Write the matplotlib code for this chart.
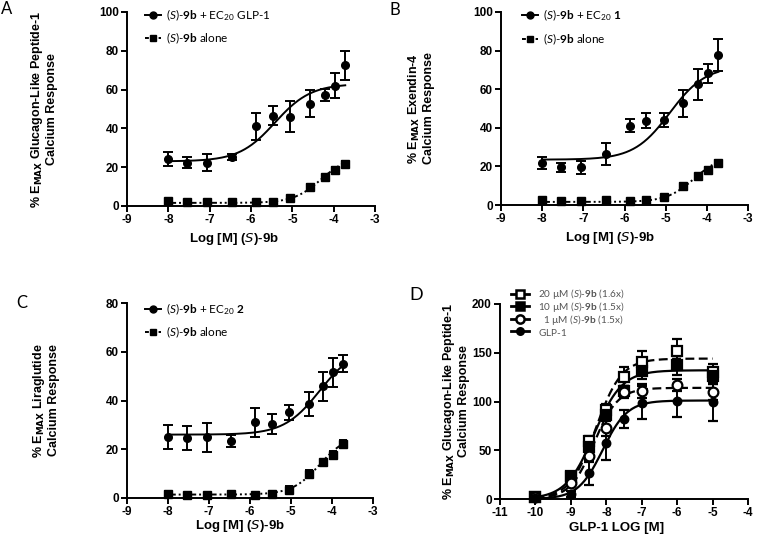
import numpy as np
import matplotlib
matplotlib.use('Agg')
import matplotlib.pyplot as plt
from matplotlib.lines import Line2D

plt.rcParams['font.family'] = ['Liberation Sans', 'DejaVu Sans']
plt.rcParams['mathtext.fontset'] = 'custom'
plt.rcParams['mathtext.rm'] = 'Lato'
plt.rcParams['mathtext.it'] = 'Lato:italic'
plt.rcParams['mathtext.bf'] = 'Lato:bold'

# ---------------- data ----------------
logM_9b = [-8.0, -7.54, -7.06, -6.46, -5.87, -5.47, -5.05, -4.57, -4.22, -3.97, -3.72]

A_combo = [24.1, 22.4, 22.4, 25.3, 41.1, 46.5, 46.0, 52.8, 57.1, 62.0, 72.5]
A_combo_err = [3.5, 3.0, 4.5, 1.5, 7.0, 5.0, 8.0, 7.0, 3.0, 6.5, 7.5]
A_alone = [2.4, 2.0, 1.9, 2.2, 1.9, 2.2, 4.0, 9.6, 15.0, 18.4, 21.9]
A_alone_err = [1.0, 0.8, 0.8, 0.8, 0.8, 0.8, 1.2, 1.5, 1.0, 1.5, 1.5]

B_combo = [21.7, 19.5, 19.5, 26.4, 41.1, 43.7, 44.0, 52.6, 62.5, 68.3, 77.7]
B_combo_err = [3.0, 2.5, 3.5, 5.5, 3.5, 4.0, 3.5, 7.0, 8.0, 5.0, 8.5]
B_alone = [2.4, 2.0, 2.0, 2.4, 2.0, 2.4, 4.0, 9.8, 14.9, 18.3, 21.7]
B_alone_err = [1.0, 0.8, 0.8, 0.8, 0.8, 0.8, 1.2, 1.5, 1.0, 1.5, 1.5]

C_combo = [24.9, 24.6, 24.9, 23.5, 31.0, 30.4, 35.2, 38.6, 45.8, 51.6, 55.0]
C_combo_err = [5.0, 5.0, 6.0, 2.5, 6.0, 4.0, 3.0, 5.0, 6.0, 6.0, 3.5]
C_alone = [1.8, 1.4, 1.4, 1.6, 1.4, 1.6, 3.4, 10.0, 14.6, 17.8, 22.2]
C_alone_err = [1.2, 0.6, 0.6, 1.0, 0.6, 1.0, 1.5, 1.5, 0.8, 1.5, 1.5]

# 4-parameter logistic fit parameters: bottom, top, logEC50, hill
A_combo_fit = [23.0, 63.0, -5.42, 1.0]
A_alone_fit = [1.6, 26.0, -4.30, 1.3]
B_combo_fit = [23.5, 72.0, -4.90, 1.0]
B_alone_fit = [1.6, 26.0, -4.30, 1.3]
C_combo_fit = [26.0, 62.0, -4.30, 1.0]
C_alone_fit = [1.4, 26.0, -4.30, 1.3]

logM_glp1 = [-10, -9, -8.5, -8, -7.5, -7, -6, -5]
D_20uM = [1.7, 23.5, 60.0, 91.0, 125.5, 141.0, 152.0, 130.0]
D_20uM_err = [1, 3, 5, 6, 10, 11, 12, 8]
D_10uM = [1.7, 23.0, 53.0, 86.0, 111.0, 131.0, 137.0, 126.5]
D_10uM_err = [1, 3, 5, 6, 5, 8, 10, 8]
D_1uM = [1.7, 16.0, 44.0, 73.0, 109.5, 111.0, 117.0, 110.0]
D_1uM_err = [1, 3, 6, 8, 6, 7, 6, 8]
D_glp1 = [1.5, 5.0, 27.0, 57.0, 82.0, 98.6, 101.0, 99.3]
D_glp1_err = [1, 3, 13, 17, 9, 17, 17, 19]

D_20uM_fit = [0.0, 144.0, -8.30, 1.2]
D_10uM_fit = [0.0, 132.0, -8.35, 1.1]
D_1uM_fit = [0.0, 114.0, -8.35, 1.3]
D_glp1_fit = [0.0, 101.0, -8.10, 1.25]

legA = [r"($\mathit{S}$)-$\mathbf{9b}$ + EC$_{20}$ GLP-1", r"($\mathit{S}$)-$\mathbf{9b}$ alone"]
legB = [r"($\mathit{S}$)-$\mathbf{9b}$ + EC$_{20}$ $\mathbf{1}$", r"($\mathit{S}$)-$\mathbf{9b}$ alone"]
legC = [r"($\mathit{S}$)-$\mathbf{9b}$ + EC$_{20}$ $\mathbf{2}$", r"($\mathit{S}$)-$\mathbf{9b}$ alone"]
legD = [r"20 µM ($\mathit{S}$)-$\mathbf{9b}$ (1.6x)", r"10 µM ($\mathit{S}$)-$\mathbf{9b}$ (1.5x)",
        r"  1 µM ($\mathit{S}$)-$\mathbf{9b}$ (1.5x)", r"GLP-1$\,$"]

xlabel_9b = r"Log [M] ($\mathit{S}$)-9b"
xlabel_D = "GLP-1 LOG [M]"
ylabels = [r"% E$_{\mathbf{MAX}}$ Glucagon-Like Peptide-1" + "\nCalcium Response",
           r"% E$_{\mathbf{MAX}}$ Exendin-4" + "\nCalcium Response",
           r"% E$_{\mathbf{MAX}}$ Liraglutide" + "\nCalcium Response",
           r"% E$_{\mathbf{MAX}}$ Glucagon-Like Peptide-1" + "\nCalcium Response"]


def logistic(x, p):
    b, t, ec, h = p
    return b + (t - b) / (1 + 10 ** ((ec - x) * h))


fig = plt.figure(figsize=(7.78, 5.4), dpi=100)
W, H = 778.0, 540.0


def axes_px(l, t, r, b):
    return fig.add_axes([l / W, 1 - b / H, (r - l) / W, (b - t) / H])


def style(ax, xlim, ylim, xt, yt):
    ax.set_xlim(*xlim)
    ax.set_ylim(*ylim)
    ax.set_xticks(xt)
    ax.set_yticks(yt)
    ax.set_xticklabels([str(v) for v in xt])
    ax.set_yticklabels([str(v) for v in yt])
    for s in ['top', 'right']:
        ax.spines[s].set_visible(False)
    for s in ['left', 'bottom']:
        ax.spines[s].set_linewidth(1.4)
    ax.tick_params(direction='out', length=4, width=1.4, pad=2, labelsize=8.5)
    for lab in ax.get_xticklabels() + ax.get_yticklabels():
        lab.set_fontweight('bold')


def legend_handle(y, hx0, hx1, st):
    yy = 1 - y / H
    fig.add_artist(Line2D([hx0 / W, hx1 / W], [yy, yy], transform=fig.transFigure,
                          color='k', lw=st.get('lw', 1.4), ls=st.get('ls', '-')))
    fig.add_artist(Line2D([(hx0 + hx1) / 2 / W], [yy], transform=fig.transFigure, ls='none',
                          marker=st['marker'], ms=st['ms'], mfc=st.get('mfc', 'k'),
                          mec='k', mew=st.get('mew', 1.0)))


def manual_legend(rows_y, hx0, hx1, tx, labels, styles, fs, color):
    for y, lab, st in zip(rows_y, labels, styles):
        legend_handle(y, hx0, hx1, st)
        fig.text(tx / W, 1 - y / H, lab, fontsize=fs, family='Lato', color=color, ha='left', va='center')


ALONE_LS = (0, (4, 1.5, 1, 1.5, 1, 1.5))


def panel_9b(ax, combo, cerr, cfit, alone, aerr, afit, ylab, ymax, yt, xlc, ylc, yl_x):
    style(ax, (-9, -3), (0, ymax), list(range(-9, -2)), yt)
    xs = np.linspace(logM_9b[0], logM_9b[-1], 200)
    ax.plot(xs, logistic(xs, cfit), color='k', lw=1.4, clip_on=False)
    ax.plot(xs, logistic(xs, afit), color='k', lw=1.4, ls=ALONE_LS, clip_on=False)
    ax.errorbar(logM_9b, combo, yerr=cerr, fmt='o', ms=5.5, color='k', capsize=3.5,
                elinewidth=1.4, capthick=1.4, clip_on=False)
    ax.errorbar(logM_9b, alone, yerr=aerr, fmt='s', ms=5.5, color='k', capsize=3.0,
                elinewidth=1.4, capthick=1.4, clip_on=False)
    ax.set_xlabel(xlabel_9b, fontsize=9.5, fontweight='bold', math_fontfamily='dejavusans')
    ax.xaxis.set_label_coords(xlc, ylc)
    ax.set_ylabel(ylab, fontsize=9, fontweight='bold', math_fontfamily='dejavusans', linespacing=1.1)
    ax.yaxis.set_label_coords(yl_x, 0.5)


leg_styles_9b = [dict(marker='o', ms=5), dict(marker='s', ms=5, ls=(0, (2, 1.5)))]

axA = axes_px(127, 12, 375, 206)
panel_9b(axA, A_combo, A_combo_err, A_combo_fit, A_alone, A_alone_err, A_alone_fit,
         ylabels[0], 100, [0, 20, 40, 60, 80, 100], 0.43, -0.13, -0.278)
manual_legend([15, 38], 145, 161, 166, legA, leg_styles_9b, 8.5, 'k')

axB = axes_px(501, 12, 748, 205)
panel_9b(axB, B_combo, B_combo_err, B_combo_fit, B_alone, B_alone_err, B_alone_fit,
         ylabels[1], 100, [0, 20, 40, 60, 80, 100], 0.44, -0.128, -0.267)
manual_legend([15, 39], 522, 538, 543, legB, leg_styles_9b, 8.5, 'k')

axC = axes_px(127, 303, 373, 498)
panel_9b(axC, C_combo, C_combo_err, C_combo_fit, C_alone, C_alone_err, C_alone_fit,
         ylabels[2], 80, [0, 20, 40, 60, 80], 0.46, -0.102, -0.272)
manual_legend([309, 332], 145, 161, 166, legC, leg_styles_9b, 8.5, 'k')

# Panel D
axD = axes_px(500, 304, 748, 499)
style(axD, (-11, -4), (0, 200), list(range(-11, -3)), [0, 50, 100, 150, 200])
xs = np.linspace(-10, -5, 200)
series = [
    (D_20uM, D_20uM_err, D_20uM_fit, 's', 'white', 7.5, (0, (4, 2))),
    (D_10uM, D_10uM_err, D_10uM_fit, 's', 'k', 6.5, '-'),
    (D_1uM, D_1uM_err, D_1uM_fit, 'o', 'white', 7.0, (0, (4, 2))),
    (D_glp1, D_glp1_err, D_glp1_fit, 'o', 'k', 5.5, '-'),
]
leg_styles_D = []
for vals, err, fit, mk, mfc, ms, ls in series:
    axD.plot(xs, logistic(xs, fit), color='k', lw=1.6, ls=ls, clip_on=False)
    axD.errorbar(logM_glp1, vals, yerr=err, fmt=mk, ms=ms, mfc=mfc, mec='k', mew=1.6, color='k',
                 capsize=3.5, elinewidth=1.4, capthick=1.4, clip_on=False)
    leg_styles_D.append(dict(marker=mk, ms=ms * 0.85, mfc=mfc, mew=1.8, lw=2.0))

# D legend: one multi-line text block, handles placed on its line pitch
legD_center = 312.5
txtD = fig.text(538 / W, 1 - legD_center / H, "\n".join(legD), fontsize=7.2, family='Lato',
                color='#555555', ha='left', va='center', linespacing=0.9)
fig.canvas.draw()
bbD = txtD.get_window_extent()
pitch = bbD.height / len(legD)
for i, st in enumerate(leg_styles_D):
    legend_handle(legD_center + (i - (len(legD) - 1) / 2) * pitch, 511, 529, st)

axD.set_xlabel(xlabel_D, fontsize=9.5, fontweight='bold')
axD.xaxis.set_label_coords(0.47, -0.118)
axD.set_ylabel(ylabels[3], fontsize=9, fontweight='bold', math_fontfamily='dejavusans', linespacing=1.1)
axD.yaxis.set_label_coords(-0.121, 0.5)

for lbl, x, y, fs in [('A', 1, 1, 12), ('B', 390, 2, 12), ('C', 16, 295, 12), ('D', 409, 287, 13)]:
    fig.text(x / W, 1 - y / H, lbl, fontsize=fs, family='Lato', ha='left', va='top')

fig.savefig('out.png', dpi=100)
